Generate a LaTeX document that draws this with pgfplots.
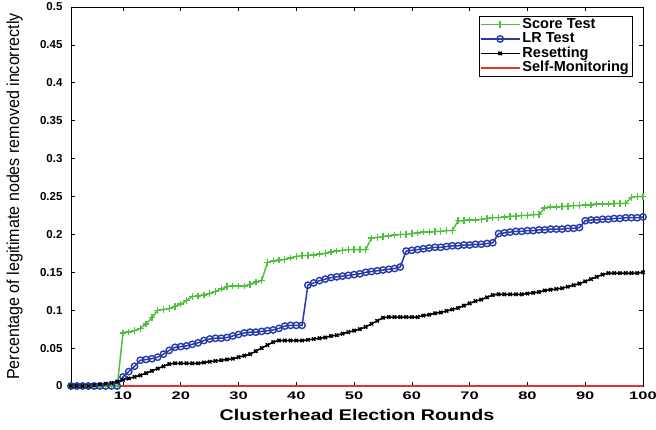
\documentclass[border=0pt]{standalone}
\usepackage{fontspec}
\setmainfont{Liberation Sans}
\usepackage{graphicx}
\usepackage{pgfplots}
\pgfplotsset{compat=1.18}
\usepackage{pgfplotstable}
\definecolor{sgreen}{RGB}{78,192,58}
\definecolor{lblue}{RGB}{38,58,168}
\definecolor{sred}{RGB}{232,50,40}

\pgfplotstableread{
x score lr reset
1 0 0 0
2 0 0 0
3 0 0 0
4 0 0 0
5 0 0 0.001
6 0 0 0.002
7 0 0 0.003
8 0 0 0.004
9 0 0 0.006
10 0.070 0.012 0.008
11 0.071 0.019 0.010
12 0.073 0.026 0.012
13 0.076 0.034 0.014
14 0.082 0.035 0.017
15 0.090 0.036 0.020
16 0.100 0.038 0.023
17 0.101 0.042 0.026
18 0.102 0.047 0.029
19 0.105 0.051 0.030
20 0.108 0.052 0.030
21 0.113 0.053 0.030
22 0.118 0.055 0.030
23 0.119 0.057 0.030
24 0.120 0.060 0.031
25 0.122 0.062 0.032
26 0.125 0.063 0.033
27 0.128 0.063 0.034
28 0.131 0.064 0.035
29 0.132 0.066 0.036
30 0.132 0.068 0.038
31 0.132 0.070 0.040
32 0.134 0.071 0.042
33 0.137 0.071 0.046
34 0.139 0.072 0.050
35 0.163 0.073 0.054
36 0.165 0.074 0.058
37 0.166 0.076 0.060
38 0.167 0.079 0.060
39 0.169 0.080 0.060
40 0.171 0.080 0.060
41 0.172 0.080 0.060
42 0.172 0.133 0.061
43 0.173 0.136 0.062
44 0.174 0.139 0.063
45 0.175 0.141 0.064
46 0.177 0.143 0.066
47 0.178 0.144 0.067
48 0.179 0.145 0.069
49 0.180 0.146 0.071
50 0.180 0.147 0.073
51 0.180 0.148 0.075
52 0.180 0.150 0.078
53 0.195 0.151 0.082
54 0.196 0.152 0.086
55 0.197 0.153 0.090
56 0.198 0.154 0.091
57 0.199 0.155 0.091
58 0.200 0.157 0.091
59 0.200 0.178 0.091
60 0.201 0.179 0.091
61 0.202 0.180 0.091
62 0.203 0.181 0.093
63 0.203 0.182 0.094
64 0.204 0.183 0.096
65 0.204 0.183 0.097
66 0.205 0.184 0.099
67 0.205 0.185 0.101
68 0.218 0.185 0.103
69 0.218 0.186 0.106
70 0.219 0.186 0.109
71 0.219 0.187 0.112
72 0.220 0.187 0.114
73 0.221 0.188 0.117
74 0.222 0.189 0.120
75 0.222 0.201 0.121
76 0.223 0.202 0.121
77 0.224 0.203 0.121
78 0.224 0.204 0.121
79 0.225 0.204 0.121
80 0.225 0.205 0.122
81 0.226 0.205 0.123
82 0.226 0.206 0.124
83 0.235 0.206 0.126
84 0.236 0.207 0.127
85 0.236 0.207 0.128
86 0.237 0.207 0.129
87 0.237 0.208 0.131
88 0.238 0.208 0.133
89 0.238 0.209 0.135
90 0.239 0.218 0.138
91 0.239 0.219 0.141
92 0.240 0.219 0.144
93 0.240 0.220 0.147
94 0.240 0.220 0.149
95 0.241 0.221 0.149
96 0.241 0.221 0.149
97 0.241 0.222 0.149
98 0.249 0.222 0.149
99 0.250 0.222 0.149
100 0.250 0.223 0.150
}\datatable

\begin{document}
\begin{tikzpicture}
\begin{axis}[
  name=ax,
  scale only axis,
  width=572pt, height=379pt,
  xmin=1, xmax=100, ymin=0, ymax=0.5,
  clip=false,
  xtick={10,20,...,100},
  xticklabels={10,20,30,40,50,60,70,80,90,100},
  ytick={0,0.05,0.1,0.15,0.2,0.25,0.3,0.35,0.4,0.45,0.5},
  yticklabels={0,0.05,0.1,0.15,0.2,0.25,0.3,0.35,0.4,0.45,0.5},
  tick align=inside,
  major tick length=4pt,
  axis line style={line width=0.9pt},
  every tick/.style={black, line width=0.7pt},
  /pgf/number format/assume math mode=true,
  yticklabel style={font=\bfseries\fontsize{11.5}{12}\selectfont, xshift=-5pt},
  xticklabel style={font=\bfseries\fontsize{11}{12}\selectfont, yshift=-2pt, xscale=1.5},
  xlabel={\scalebox{1.27}[1]{\bfseries\fontsize{15.5}{16}\selectfont Clusterhead Election Rounds}},
  ylabel={\scalebox{0.93}[1]{\fontsize{17.3}{17}\selectfont Percentage of legitimate nodes removed incorrectly}},
  xlabel style={at={(rel axis cs:0.5,-0.0923)}, anchor=base, inner sep=0pt},
  ylabel style={at={(rel axis cs:-0.0909,0.5)}, anchor=base, inner sep=0pt},
  legend cell align=left,
  legend style={at={(1,1)}, anchor=north east, xshift=-11pt, yshift=-9pt,
    font=\bfseries\fontsize{14.5}{15}\selectfont, draw=black,
    inner xsep=1pt, inner ysep=1pt, row sep=0pt,
    nodes={inner xsep=2pt, inner ysep=0.5pt, text height=10.5pt, text depth=3pt}},
  legend image code/.code={\draw[line width=1.6pt, mark repeat=2,mark phase=2] plot coordinates {(0pt,0pt) (19.5pt,0pt) (39pt,0pt)};},
]
\addplot[sgreen, line width=1.5pt, mark=+, mark size=3.3pt, mark options={line width=1.4pt}] table[x=x,y=score] {\datatable};
\addlegendentry{Score Test}
\addplot[lblue, line width=1.5pt, mark=o, mark size=3.2pt, mark options={line width=1.4pt}] table[x=x,y=lr] {\datatable};
\addlegendentry{LR Test}
\addplot[black, line width=1.5pt, mark=x, mark size=2.4pt, mark options={line width=1.5pt}] table[x=x,y=reset] {\datatable};
\addlegendentry{Resetting}
\addplot[sred, line width=1.6pt] coordinates {(1,0) (100,0)};
\addlegendentry{Self-Monitoring}
\end{axis}
\pgfresetboundingbox
\path ([xshift=-71pt,yshift=-43pt]ax.south west) rectangle ([xshift=13pt,yshift=7pt]ax.north east);
\end{tikzpicture}
\end{document}
